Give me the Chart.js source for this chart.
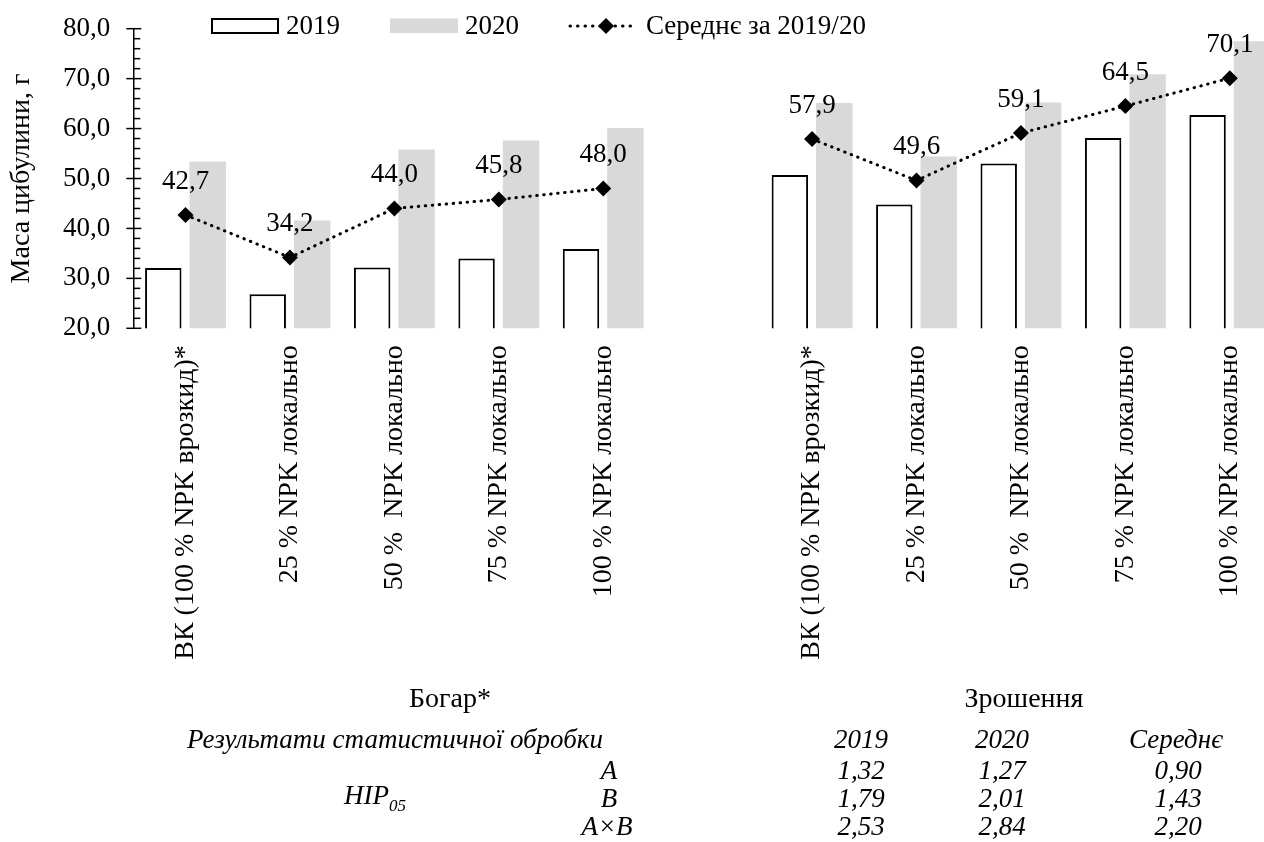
<!DOCTYPE html>
<html lang="uk">
<head>
<meta charset="utf-8">
<title>Маса цибулини</title>
<script src="https://cdn.jsdelivr.net/npm/chart.js@4.4.1/dist/chart.umd.min.js"></script>
<style>
  html, body { margin: 0; padding: 0; background: #fff; overflow: hidden; }
  #wrap { position: relative; width: 1264px; height: 842px; overflow: hidden;
          font-family: "Liberation Serif", "Times New Roman", serif; color: #000; }
  #chart { position: absolute; left: 0; top: 0; }
  .t { position: absolute; white-space: nowrap; transform: translate(-50%, -50%); font-size: 27px; line-height: 1; }
  .g { font-size: 28px; }
  .i { font-style: italic; }
</style>
</head>
<body>
<div id="wrap">
  <canvas id="chart" width="1290" height="842"></canvas>

  <div class="t g" style="left:450px;top:698px">Богар*</div>
  <div class="t g" style="left:1024px;top:698px">Зрошення</div>

  <div class="t i" style="left:395px;top:739px">Результати статистичної обробки</div>
  <div class="t i" style="left:861px;top:739px">2019</div>
  <div class="t i" style="left:1002px;top:739px">2020</div>
  <div class="t i" style="left:1176px;top:739px">Середнє</div>

  <div class="t i" style="left:609px;top:770px">A</div>
  <div class="t i" style="left:861px;top:770px">1,32</div>
  <div class="t i" style="left:1002px;top:770px">1,27</div>
  <div class="t i" style="left:1178px;top:770px">0,90</div>

  <div class="t i" style="left:375px;top:798px">НІР<sub style="font-size:17px">05</sub></div>
  <div class="t i" style="left:609px;top:798px">B</div>
  <div class="t i" style="left:861px;top:798px">1,79</div>
  <div class="t i" style="left:1002px;top:798px">2,01</div>
  <div class="t i" style="left:1178px;top:798px">1,43</div>

  <div class="t i" style="left:607px;top:826px">A×B</div>
  <div class="t i" style="left:861px;top:826px">2,53</div>
  <div class="t i" style="left:1002px;top:826px">2,84</div>
  <div class="t i" style="left:1178px;top:826px">2,20</div>
</div>

<script>
/* ---------- DATA ---------- */

const variants = ["ВК (100 % NPK врозкид)*", "25 % NPK локально", "50 %  NPK локально", "75 % NPK локально", "100 % NPK локально"];

// Богар
const dry2019 = [32.1, 26.8, 32.2, 34.0, 35.9];
const dry2020 = [53.4, 41.6, 55.8, 57.6, 60.1];
const dryMean = [42.7, 34.2, 44.0, 45.8, 48.0];

// Зрошення
const wet2019 = [50.7, 44.8, 53.0, 58.1, 62.7];
const wet2020 = [65.1, 54.4, 65.2, 70.9, 77.5];
const wetMean = [57.9, 49.6, 59.1, 64.5, 70.1];

const yTicks = [20, 30, 40, 50, 60, 70, 80];

// one empty slot between the two groups
const labels = [...variants, "", ...variants];
const mass2019 = [...dry2019, null, ...wet2019];
const mass2020 = [...dry2020, null, ...wet2020];
const massMean = [...dryMean, null, ...wetMean];

const FONT = '"Liberation Serif", "Times New Roman", serif';
const fmt = v => v.toFixed(1).replace('.', ',');

/* ---------- EXTRAS: ticks, point labels, legend ---------- */

const extras = {
  id: 'extras',
  afterDatasetsDraw(chart) {
    const {ctx, chartArea, scales: {y}} = chart;
    ctx.save();

    // y-axis tick marks (major cross, minor inside)
    ctx.strokeStyle = '#000';
    ctx.lineWidth = 1.5;
    for (let v = yTicks[0]; v <= yTicks[yTicks.length - 1]; v += 2) {
      const py = y.getPixelForValue(v);
      const major = yTicks.includes(v);
      ctx.beginPath();
      ctx.moveTo(chartArea.left - (major ? 7 : 0), py);
      ctx.lineTo(chartArea.left + (major ? 8 : 7), py);
      ctx.stroke();
    }

    // values above the mean line
    ctx.font = '27px ' + FONT;
    ctx.fillStyle = '#000';
    ctx.textAlign = 'center';
    ctx.textBaseline = 'alphabetic';
    chart.getDatasetMeta(2).data.forEach((pt, i) => {
      if (massMean[i] == null) return;
      ctx.fillText(fmt(massMean[i]), pt.x, pt.y - 26);
    });

    // legend
    const ly = 26;
    ctx.textAlign = 'left';
    ctx.textBaseline = 'middle';

    ctx.fillStyle = '#fff';
    ctx.fillRect(212, 19, 66, 14);
    ctx.strokeStyle = '#000';
    ctx.lineWidth = 2;
    ctx.strokeRect(212, 19, 66, 14);
    ctx.fillStyle = '#000';
    ctx.fillText('2019', 286, ly + 1);

    ctx.fillStyle = '#d9d9d9';
    ctx.fillRect(390, 18.5, 68, 14.5);
    ctx.fillStyle = '#000';
    ctx.fillText('2020', 465, ly + 1);

    ctx.lineWidth = 3;
    ctx.lineCap = 'round';
    ctx.setLineDash([0.5, 7]);
    ctx.beginPath();
    ctx.moveTo(570, ly);
    ctx.lineTo(637, ly);
    ctx.stroke();
    ctx.setLineDash([]);
    ctx.beginPath();
    ctx.moveTo(606, ly - 8);
    ctx.lineTo(614, ly);
    ctx.lineTo(606, ly + 8);
    ctx.lineTo(598, ly);
    ctx.closePath();
    ctx.fill();
    ctx.fillText('Середнє за 2019/20', 646, ly + 1);

    ctx.restore();
  }
};

/* ---------- CHART ---------- */

try {
  new Chart(document.getElementById("chart"), {
    type: 'bar',
    data: {
      labels: labels,
      datasets: [
        {
          label: "2019",
          data: mass2019,
          backgroundColor: "#ffffff",
          borderColor: "#000000",
          borderWidth: 2,
          borderSkipped: false,
          categoryPercentage: 0.851,
          barPercentage: 0.82,
          order: 1
        },
        {
          label: "2020",
          data: mass2020,
          backgroundColor: "#d9d9d9",
          borderWidth: 0,
          categoryPercentage: 0.851,
          barPercentage: 0.82,
          order: 1
        },
        {
          type: 'line',
          label: "Середнє за 2019/20",
          data: massMean,
          borderColor: "#000000",
          borderWidth: 3,
          borderDash: [0.5, 6.5],
          borderCapStyle: 'round',
          pointStyle: 'rectRot',
          pointRadius: 8,
          pointBackgroundColor: "#000000",
          pointBorderColor: "#000000",
          pointBorderWidth: 0,
          spanGaps: false,
          tension: 0,
          order: 0
        }
      ]
    },
    options: {
      responsive: false,
      animation: false,
      events: [],
      layout: { padding: { top: 28.7, right: 6, left: 0, bottom: 0 } },
      plugins: {
        legend: { display: false },
        tooltip: { enabled: false }
      },
      scales: {
        x: {
          grid: { display: false, drawTicks: false },
          border: { display: false },
          ticks: {
            autoSkip: false,
            maxRotation: 90,
            minRotation: 90,
            padding: 17,
            color: '#000',
            font: { family: FONT, size: 28 }
          },
          afterFit(scale) {
            scale.height = 842 - 328.3;
            scale.paddingLeft = 0;
            scale.paddingRight = 0;
          }
        },
        y: {
          min: yTicks[0],
          max: yTicks[yTicks.length - 1],
          grid: { display: false, drawTicks: false },
          border: { display: true, color: '#000', width: 1.5 },
          ticks: {
            stepSize: 10,
            padding: 23,
            color: '#000',
            font: { family: FONT, size: 27 },
            callback: v => fmt(v)
          },
          title: {
            display: true,
            text: 'Маса цибулини, г',
            color: '#000',
            font: { family: FONT, size: 28 },
            padding: { top: 5, bottom: 0 }
          },
          afterFit(scale) {
            scale.width = 133.3;
            scale.paddingTop = 0;
            scale.paddingBottom = 0;
          }
        }
      }
    },
    plugins: [extras]
  });
} catch (e) {
  console.error('Error initializing chart:', e);
}
</script>
</body>
</html>
